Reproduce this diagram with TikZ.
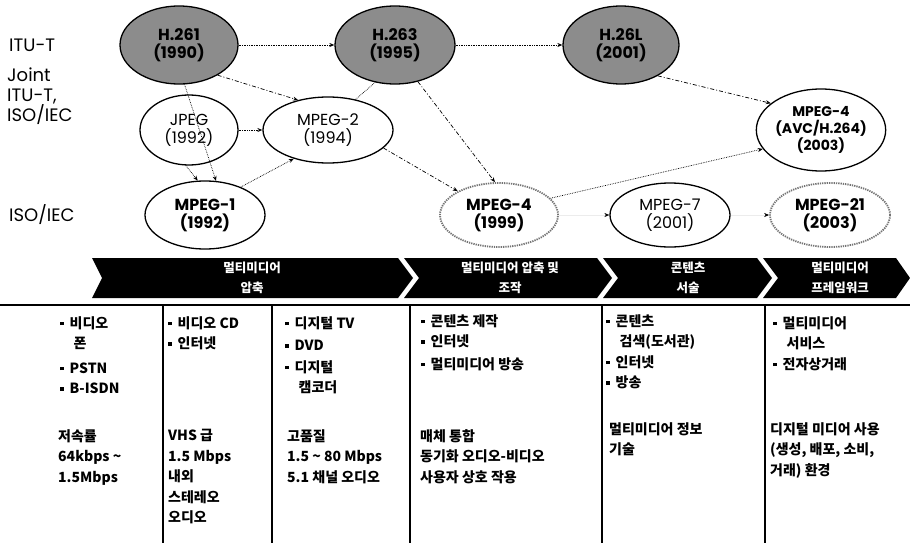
\documentclass[tikz,border=0pt]{standalone}
\usepackage{fontspec}
\setmainfont{Poppins}
\newfontfamily\krfont{Noto Sans CJK KR}
\usetikzlibrary{shapes.geometric,arrows.meta}

\definecolor{itugray}{HTML}{8C8C8C}
\newcommand\sqbul{\rule[3pt]{3.5pt}{3.5pt}\hspace{6pt}}

\tikzset{
  stdnode/.style={ellipse, draw=black, line width=1.3pt, inner sep=0pt, align=center,
    font=\fontsize{16}{18}\selectfont},
  stdbold/.style={stdnode, font=\fontsize{16}{18}\selectfont\bfseries},
  ituname/.style={stdbold, fill=itugray},
  isodot/.style={stdbold, draw=black!55, densely dotted, line width=1.8pt},
  rowlab/.style={inner sep=0pt, align=left, font=\fontsize{18}{20}\selectfont},
  dotlink/.style={densely dotted, line width=0.7pt, -{Stealth[length=5pt,width=4pt]}},
  dashlink/.style={dash pattern=on 4pt off 2pt on 1pt off 2pt, line width=0.7pt,
    -{Stealth[length=5pt,width=4pt]}},
  plainlink/.style={densely dotted, line width=0.7pt},
  faintlink/.style={draw=gray!15, line width=0.5pt, -{Stealth[length=5pt,width=4pt,black]}},
  chev/.style={fill=black},
  chevtext/.style={text=white, align=center, inner sep=0pt,
    font=\krfont\bfseries\fontsize{12.5}{20}\selectfont},
  cell/.style={anchor=north west, inner sep=0pt, align=left,
    font=\krfont\bfseries\fontsize{14}{20.5}\selectfont},
  divider/.style={line width=1.2pt, draw=black}
}

\begin{document}
\begin{tikzpicture}[x=1pt,y=-1pt]
\useasboundingbox (0,0) rectangle (910,543);
\fill[white] (0,0) rectangle (910,543);

% row labels
\node[rowlab, anchor=west] (labitu) at (9,45) {ITU-T};
\node[rowlab, anchor=north west] (labjoint) at (7,68) {Joint\\ITU-T,\\ISO/IEC};
\node[rowlab, anchor=west] (labiso) at (9,215) {ISO/IEC};

% standards
\node[ituname, minimum width=118pt, minimum height=78pt] (h261) at (179,45) {H.261\\(1990)};
\node[ituname, minimum width=120pt, minimum height=78pt] (h263) at (395,45) {H.263\\(1995)};
\node[ituname, minimum width=116pt, minimum height=78pt] (h26l) at (621,45) {H.26L\\(2001)};
\node[stdnode, minimum width=98pt, minimum height=70pt] (jpeg) at (189,130) {JPEG\\(1992)};
\node[stdnode, minimum width=130pt, minimum height=66pt] (mpeg2) at (328,130) {MPEG-2\\(1994)};
\node[stdbold, minimum width=120pt, minimum height=68pt] (mpeg1) at (205,215) {MPEG-1\\(1992)};
\node[isodot, minimum width=118pt, minimum height=64pt] (mpeg4) at (499,215) {MPEG-4\\(1999)};
\node[stdnode, minimum width=120pt, minimum height=64pt] (mpeg7) at (670,215) {MPEG-7\\(2001)};
\node[isodot, minimum width=120pt, minimum height=64pt] (mpeg21) at (830,215) {MPEG-21\\(2003)};
\node[stdbold, minimum width=128pt, minimum height=82pt,
      font=\fontsize{14}{17}\selectfont\bfseries] (avc) at (821,130) {MPEG-4\\(AVC/H.264)\\(2003)};

% lineage
\draw[dotlink] (h261.east) -- (h263.west);
\draw[dotlink] (h263.east) -- (h26l.west);
\draw[dashlink] (h261.-38) -- (mpeg2.135);
\draw[dotlink] (h261.-82) -- (mpeg1.72);
\draw[dotlink] (jpeg.-95) -- (mpeg1.102);
\draw[dotlink] (jpeg.east) -- (mpeg2.west);
\draw[dotlink] (mpeg1.38) -- (mpeg2.-140);
\draw[plainlink] (mpeg2.48) -- (h263.-118);
\draw[dashlink] (mpeg2.-18) -- (mpeg4.150);
\draw[dashlink] (h263.-58) -- (mpeg4.97);
\draw[dashlink] (h26l.-40) -- (avc.152);
\draw[dotlink] (mpeg4.18) -- (avc.198);
\draw[faintlink] (mpeg4.east) -- (mpeg7.west);
\draw[faintlink] (mpeg7.east) -- (mpeg21.west);

% stage banner
\fill[chev] (92,258) -- (398,258) -- (413,278) -- (398,298) -- (92,298) -- (102,278) -- cycle;
\fill[chev] (404,258) -- (597,258) -- (612,278) -- (597,298) -- (404,298) -- (419,278) -- cycle;
\fill[chev] (603,258) -- (757,258) -- (772,278) -- (757,298) -- (603,298) -- (618,278) -- cycle;
\fill[chev] (763,258) -- (896,258) -- (910,278) -- (896,298) -- (763,298) -- (778,278) -- cycle;
\node[chevtext] (stage1) at (252,278) {멀티미디어\\압축};
\node[chevtext] (stage2) at (510,278) {멀티미디어 압축 및\\조작};
\node[chevtext] (stage3) at (688,278) {콘텐츠\\서술};
\node[chevtext] (stage4) at (840,278) {멀티미디어\\프레임워크};

% table frame
\draw[line width=2pt] (0,305) -- (910,305);
\draw[divider] (163,305) -- (163,543);
\draw[divider] (272,305) -- (272,543);
\draw[divider] (410,305) -- (410,543);
\draw[divider] (602,305) -- (602,543);
\draw[divider] (765,305) -- (765,543);

% applications
\node[cell] (app1) at (60,316) {\sqbul 비디오\\\hspace{13.5pt}폰\\[4pt]\sqbul PSTN\\\sqbul B-ISDN};
\node[cell] (app2) at (168,316) {\sqbul 비디오 CD\\\sqbul 인터넷};
\node[cell] (app3) at (285,316) {\sqbul 디지털 TV\\[2pt]\sqbul DVD\\[1pt]\sqbul 디지털\\\hspace{13.5pt}캠코더};
\node[cell] (app4) at (421,314) {\sqbul 콘텐츠 제작\\\sqbul 인터넷\\[2pt]\sqbul 멀티미디어 방송};
\node[cell] (app5) at (606,314) {\sqbul 콘텐츠\\\hspace{13.5pt}검색(도서관)\\\sqbul 인터넷\\\sqbul 방송};
\node[cell] (app6) at (773,316) {\sqbul 멀티미디어\\\hspace{13.5pt}서비스\\\sqbul 전자상거래};

% characteristics
\node[cell] (feat1) at (58,429) {저속률\\64kbps \textasciitilde\\1.5Mbps};
\node[cell] (feat2) at (168,429) {VHS 급\\1.5 Mbps\\내외\\스테레오\\오디오};
\node[cell] (feat3) at (287,429) {고품질\\1.5 \textasciitilde{} 80 Mbps\\5.1 채널 오디오};
\node[cell] (feat4) at (420,429) {매체 통합\\동기화 오디오-비디오\\사용자 상호 작용};
\node[cell] (feat5) at (609,422) {멀티미디어 정보\\기술};
\node[cell] (feat6) at (770,422) {디지털 미디어 사용\\(생성, 배포, 소비,\\거래) 환경};
\end{tikzpicture}
\end{document}
